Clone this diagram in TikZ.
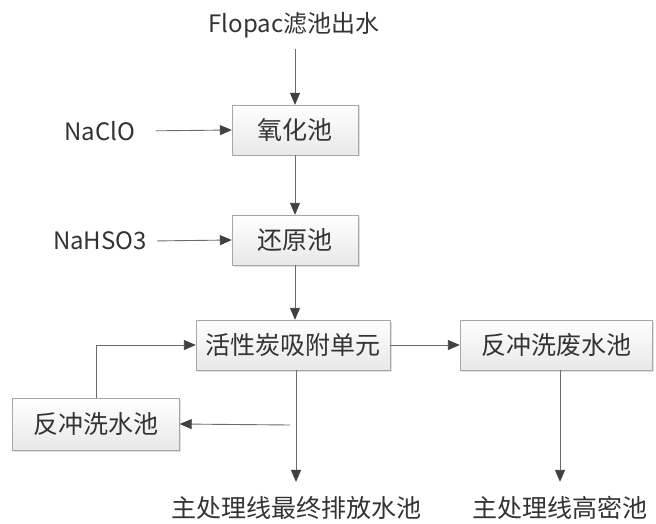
\documentclass[tikz,border=0pt]{standalone}
\usepackage{fontspec}
\setmainfont{Noto Sans CJK SC}
\usetikzlibrary{arrows.meta,shadows}

\begin{document}
\begin{tikzpicture}[x=1pt,y=-1pt,font=\fontsize{25}{28}\selectfont,text=black!80,
  pool/.style={draw=gray!70,top color=white,bottom color=gray!18,
    drop shadow={shadow xshift=1.5pt,shadow yshift=-1.5pt,opacity=0.25},
    minimum height=50pt,inner sep=0pt},
  lbl/.style={font=\fontsize{24}{26}\selectfont},
  flow/.style={draw=gray!85!black,line width=0.9pt,-{Triangle[length=12pt,width=10pt,color=black!75]}}]
  \useasboundingbox (0,0) rectangle (656,524);
  % pools
  \node[lbl] (src) at (294,25) {Flopac滤池出水};
  \node[pool,minimum width=126pt] (ox) at (295,130) {氧化池};
  \node[pool,minimum width=126pt] (red) at (295,240) {还原池};
  \node[pool,minimum width=194pt] (ac) at (293,345) {活性炭吸附单元};
  \node[pool,minimum width=192pt] (fw) at (556,345) {反冲洗废水池};
  \node[pool,minimum width=167pt,minimum height=52pt] (bw) at (96,424) {反冲洗水池};
  % dosing and outlets
  \node[lbl] (naclo) at (100,131) {NaClO};
  \node[lbl] (nahso) at (100,241) {NaHSO3};
  \node (out) at (296,508) {主处理线最终排放水池};
  \node (hd) at (560,508) {主处理线高密池};
  \coordinate (tap) at (290,425);
  % flows
  \draw[flow,shorten <=8pt] (src.south -| ox) -- (ox.north);
  \draw[flow,shorten <=17pt] (naclo.east) -- (ox.west);
  \draw[flow,shorten <=7pt] (nahso.east) -- (red.west);
  \draw[flow] (ox) -- (red);
  \draw[flow] (red) -- (red |- ac.north);
  \draw[flow] (ac) -- (fw);
  \draw[flow,shorten >=11pt] (ac.south -| out) -- (out.north);
  \draw[flow,shorten >=11pt] (hd |- fw.south) -- (hd.north);
  \draw[flow] (tap) -- (bw.east);
  \draw[flow] (bw.north) |- (ac.west);
\end{tikzpicture}
\end{document}
